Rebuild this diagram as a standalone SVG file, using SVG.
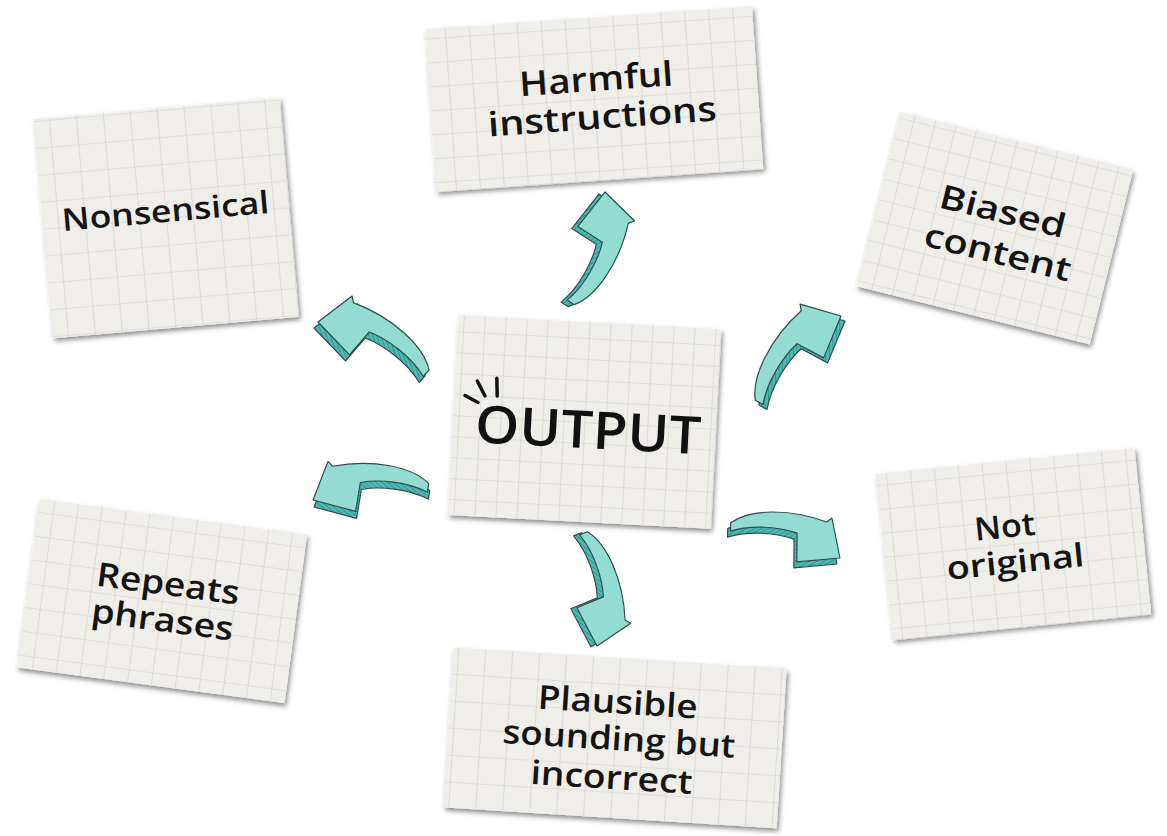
<svg xmlns="http://www.w3.org/2000/svg" xmlns:xlink="http://www.w3.org/1999/xlink" width="1167" height="836" viewBox="0 0 1167 836">
<style>
.paper{fill:#efeee9}
.lbl{font-family:"Open Sans","Noto Sans",sans-serif;font-weight:600;fill:#141414;text-anchor:middle}
.big{font-family:"Open Sans","Noto Sans",sans-serif;font-weight:600;fill:#111;text-anchor:middle}
.top{fill:#93dcd2;stroke:#2f4a4a;stroke-width:1;vector-effect:non-scaling-stroke;stroke-linejoin:round}
.side{fill:url(#hatch);stroke:#2f4a4a;stroke-width:1;vector-effect:non-scaling-stroke;stroke-linejoin:round}
.tick{stroke:#111;stroke-width:3.5;stroke-linecap:round;fill:none}
</style>
<defs>
<filter id="sh" x="-10%" y="-10%" width="125%" height="125%">
<feDropShadow dx="2" dy="3" stdDeviation="2.5" flood-color="#000" flood-opacity="0.45"/>
</filter>
<pattern id="g21" width="21" height="21" patternUnits="userSpaceOnUse"><path d="M0 0H21M0 0V21" stroke="#cfcfc8" stroke-width="1.2" fill="none"/></pattern>
<pattern id="g24" width="24" height="24" patternUnits="userSpaceOnUse"><path d="M0 0H24M0 0V24" stroke="#cfcfc8" stroke-width="1.2" fill="none"/></pattern>
<pattern id="g27" width="27" height="27" patternUnits="userSpaceOnUse"><path d="M0 0H27M0 0V27" stroke="#cfcfc8" stroke-width="1.2" fill="none"/></pattern>
<pattern id="hatch" width="3" height="3" patternUnits="userSpaceOnUse" patternTransform="rotate(45)">
<rect width="3" height="3" fill="#4dbbb3"/><line x1="0" y1="0" x2="0" y2="3" stroke="#2a8a85" stroke-width="1.2"/>
</pattern>
<path id="arr" d="M 0 -2 C 12 -18 45 -29 80 -26.7 L 83.3 -31.3 L 100 0 L 65 14 L 58 -10 C 42 -11 18 -6 2 5 Z"/>
</defs>
<rect width="1167" height="836" fill="#ffffff"/>

<g id="connectors">
<g transform="translate(428,372)">
<use href="#arr" class="side" transform="translate(-4,6) rotate(-155.56) scale(1.208,-1.208)"/>
<use href="#arr" class="top" transform="rotate(-155.56) scale(1.208,-1.208)"/>
</g>
<g transform="translate(572,304)">
<use href="#arr" class="side" transform="translate(-6,2) rotate(-73.58) scale(1.168,-1.168)"/>
<use href="#arr" class="top" transform="rotate(-73.58) scale(1.168,-1.168)"/>
</g>
<g transform="translate(757,402)">
<use href="#arr" class="side" transform="translate(4,5) rotate(-45.67) scale(1.202)"/>
<use href="#arr" class="top" transform="rotate(-45.67) scale(1.202)"/>
</g>
<g transform="translate(730,525)">
<use href="#arr" class="side" transform="translate(-3,6) rotate(16.7) scale(1.148)"/>
<use href="#arr" class="top" transform="rotate(16.7) scale(1.148)"/>
</g>
<g transform="translate(585,532)">
<use href="#arr" class="side" transform="translate(-6,1) rotate(83.99) scale(1.146)"/>
<use href="#arr" class="top" transform="rotate(83.99) scale(1.146)"/>
</g>
<g transform="translate(429,486)">
<use href="#arr" class="side" transform="translate(1,7) rotate(173.12) scale(1.168,-1.168)"/>
<use href="#arr" class="top" transform="rotate(173.12) scale(1.168,-1.168)"/>
</g>
</g>

<g id="card-nonsensical" transform="translate(166,218) rotate(-5)">
<rect class="paper" x="-123.5" y="-110" width="247" height="220" filter="url(#sh)"/>
<rect x="-123.5" y="-110" width="247" height="220" fill="url(#g27)"/>
<text class="lbl" x="0" y="4" font-size="31" textLength="208" lengthAdjust="spacingAndGlyphs">Nonsensical</text>
</g>

<g id="card-harmful" transform="translate(594,99) rotate(-4)">
<rect class="paper" x="-164" y="-81.5" width="328" height="163" filter="url(#sh)"/>
<rect x="-164" y="-81.5" width="328" height="163" fill="url(#g24)"/>
<text class="lbl" x="3.5" y="-8" font-size="34" textLength="154" lengthAdjust="spacingAndGlyphs">Harmful</text>
<text class="lbl" x="7" y="30" font-size="34" textLength="229" lengthAdjust="spacingAndGlyphs">instructions</text>
</g>

<g id="card-biased" transform="translate(995,228) rotate(14)">
<rect class="paper" x="-120" y="-90" width="240" height="180" filter="url(#sh)"/>
<rect x="-120" y="-90" width="240" height="180" fill="url(#g21)"/>
<text class="lbl" x="3.5" y="-6.5" font-size="33" textLength="129" lengthAdjust="spacingAndGlyphs">Biased</text>
<text class="lbl" x="8.6" y="34.4" font-size="33" textLength="150" lengthAdjust="spacingAndGlyphs">content</text>
</g>

<g id="card-output">
<g transform="translate(584.5,422) rotate(3)">
<rect class="paper" x="-131.5" y="-100" width="263" height="200" filter="url(#sh)"/>
<rect x="-131.5" y="-100" width="263" height="200" fill="url(#g21)"/>
<text class="big" x="4" y="26" font-size="52" textLength="226" lengthAdjust="spacingAndGlyphs">OUTPUT</text>
</g>
<path class="tick" d="M465 395.5L478 402.5M477.3 381L485 396M496.8 378.3L497.2 396"/>
</g>

<g id="card-notoriginal" transform="translate(1013.5,544) rotate(-5.7)">
<rect class="paper" x="-130" y="-83.5" width="260" height="167" filter="url(#sh)"/>
<rect x="-130" y="-83.5" width="260" height="167" fill="url(#g24)"/>
<text class="lbl" x="-7" y="-7" font-size="32" textLength="61" lengthAdjust="spacingAndGlyphs">Not</text>
<text class="lbl" x="0" y="29" font-size="32" textLength="138" lengthAdjust="spacingAndGlyphs">original</text>
</g>

<g id="card-repeats" transform="translate(162,601) rotate(7.6)">
<rect class="paper" x="-135" y="-85" width="270" height="170" filter="url(#sh)"/>
<rect x="-135" y="-85" width="270" height="170" fill="url(#g24)"/>
<text class="lbl" x="3.7" y="-6.5" font-size="33" textLength="144" lengthAdjust="spacingAndGlyphs">Repeats</text>
<text class="lbl" x="3" y="30" font-size="33" textLength="143" lengthAdjust="spacingAndGlyphs">phrases</text>
</g>

<g id="card-plausible" transform="translate(615,738) rotate(3.6)">
<rect class="paper" x="-167" y="-80" width="334" height="160" filter="url(#sh)"/>
<rect x="-167" y="-80" width="334" height="160" fill="url(#g27)"/>
<text class="lbl" x="0.5" y="-24.6" font-size="33" textLength="160" lengthAdjust="spacingAndGlyphs">Plausible</text>
<text class="lbl" x="4" y="12" font-size="33" textLength="233" lengthAdjust="spacingAndGlyphs">sounding but</text>
<text class="lbl" x="-1" y="51" font-size="33" textLength="162" lengthAdjust="spacingAndGlyphs">incorrect</text>
</g>
</svg>
